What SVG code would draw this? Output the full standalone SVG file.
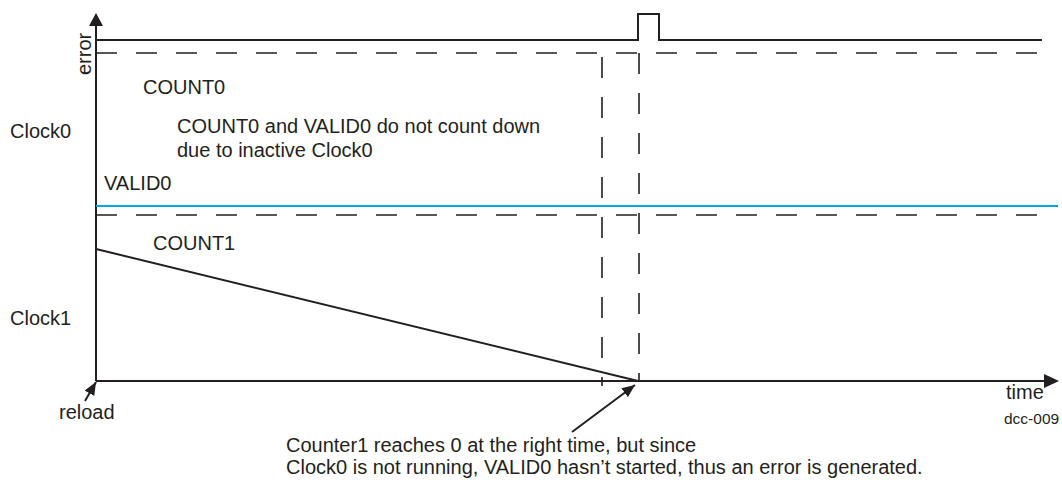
<svg xmlns="http://www.w3.org/2000/svg" width="1062" height="480" viewBox="0 0 1062 480">
<style>
text{font-family:"Liberation Sans",Arial,sans-serif;font-size:20px;fill:#231f20}
.ax{stroke:#231f20;stroke-width:2;fill:none}
.sl{stroke:#231f20;stroke-width:2;fill:none}
.ds{stroke:#231f20;stroke-width:1.6;fill:none;stroke-dasharray:21 19}
.bl{stroke:#00a6e2;stroke-width:2;fill:none}
.ah{fill:#231f20}
</style>
<defs>
<marker id="arr" markerWidth="14" markerHeight="12" refX="13" refY="6" orient="auto" markerUnits="userSpaceOnUse">
<path d="M0,0.5 L13,6 L0,11.5 Z" fill="#231f20"/>
</marker>
</defs>
<rect width="1062" height="480" fill="#fff"/>
<g id="axes">
<line class="ax" x1="96" y1="381" x2="96" y2="24"/>
<path class="ah" d="M96,13 L89,26 L103,26 Z"/>
<line class="ax" x1="96" y1="381" x2="1045" y2="381"/>
<path class="ah" d="M1059,381 L1044,374 L1044,388 Z"/>
</g>
<g id="signals">
<path class="sl" d="M96,40 H638 V14 H659 V40 H1042"/>
<line class="ds" x1="96" y1="53" x2="1038" y2="53"/>
<line class="bl" x1="96" y1="206" x2="1058" y2="206"/>
<line class="ds" x1="96" y1="215" x2="1038" y2="215"/>
<line class="sl" x1="96" y1="249" x2="638" y2="381"/>
<line class="ds" x1="602" y1="57" x2="602" y2="386"/>
<line class="ds" x1="639" y1="53" x2="639" y2="381"/>
</g>
<g id="labels">
<text transform="translate(91,75) rotate(-90)">error</text>
<text x="143" y="94">COUNT0</text>
<text x="10" y="138">Clock0</text>
<text x="177" y="133">COUNT0 and VALID0 do not count down</text>
<text x="177" y="157">due to inactive Clock0</text>
<text x="104" y="190">VALID0</text>
<text x="153" y="250">COUNT1</text>
<text x="10" y="325">Clock1</text>
<text x="1006" y="399">time</text>
<text x="1004" y="424" style="font-size:15.5px">dcc-009</text>
</g>
<g id="connectors">
<line class="sl" x1="85" y1="401" x2="96" y2="382" marker-end="url(#arr)"/>
<line class="sl" x1="572" y1="432" x2="635" y2="385" marker-end="url(#arr)"/>
</g>
<g id="notes">
<text x="59" y="419">reload</text>
<text x="286" y="452">Counter1 reaches 0 at the right time, but since</text>
<text x="286" y="474">Clock0 is not running, VALID0 hasn’t started, thus an error is generated.</text>
</g>
</svg>
